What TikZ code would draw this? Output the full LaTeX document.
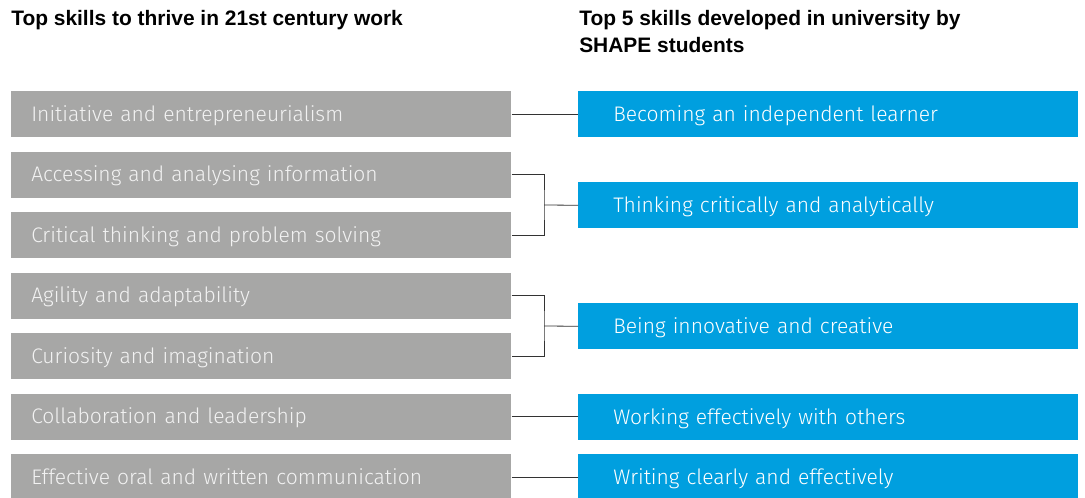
\documentclass[tikz,border=0pt]{standalone}
\usepackage{fontspec}
\setmainfont{Liberation Sans}
\newfontfamily\lightfont{Fira Sans}[UprightFont={* Light}]
\usepackage{xcolor}
\usetikzlibrary{positioning}

\definecolor{skillgray}{HTML}{A7A7A6}
\definecolor{skillblue}{HTML}{009FDF}
\definecolor{skilltext}{HTML}{F2F2F2}

\tikzset{
  headline/.style={anchor=north west,align=left,inner sep=0pt,
    font=\bfseries\fontsize{15.7}{20}\selectfont},
  workbox/.style={fill=skillgray,text=skilltext,anchor=north west,
    minimum width=375pt,minimum height=34.5pt,text width=345pt,
    inner xsep=15pt,inner ysep=0pt,align=left,text depth=1.5pt,
    font=\lightfont\fontsize{15.8}{18}\selectfont},
  unibox/.style={workbox,fill=skillblue,text=white,
    text width=322.5pt,inner xsep=26.25pt},
  link/.style={draw=black!80,line width=0.6pt},
}

\begin{document}
\begin{tikzpicture}[x=0.75pt,y=-0.75pt]
\useasboundingbox (0,0) rectangle (1085,498);

% --- column headings ---
\node[headline] (hwork) at (11,10.5) {Top skills to thrive in 21st century work};
\node[headline] (huni) at (579,10.5) {Top 5 skills developed in university by\\SHAPE students};

% --- left column: 21st century work ---
\foreach \i/\txt in {1/Initiative and entrepreneurialism,
    2/Accessing and analysing information,
    3/Critical thinking and problem solving,
    4/Agility and adaptability,
    5/Curiosity and imagination,
    6/Collaboration and leadership,
    7/Effective oral and written communication}
  \node[workbox] (w\i) at (11,{91+60.5*(\i-1)}) {\txt};

% --- right column: developed in university ---
\foreach \i/\y/\txt in {1/91/Becoming an independent learner,
    2/182/Thinking critically and analytically,
    3/303/Being innovative and creative,
    4/394/Working effectively with others,
    5/454/Writing clearly and effectively}
  \node[unibox] (u\i) at (578,\y) {\txt};

% --- links ---
\coordinate (j1) at (544,205);
\coordinate (j2) at (544,326);
\draw[link] (w1.east) -- (u1.west);
\draw[link] (w2.east) -| (j1) |- (w3.east);
\draw[link] (j1) -- (u2.west);
\draw[link] (w4.east) -| (j2) |- (w5.east);
\draw[link] (j2) -- (u3.west);
\draw[link] (w6.east) -- (w6.east -| u4.west);
\draw[link] (w7.east) -- (w7.east -| u5.west);
\end{tikzpicture}
\end{document}
